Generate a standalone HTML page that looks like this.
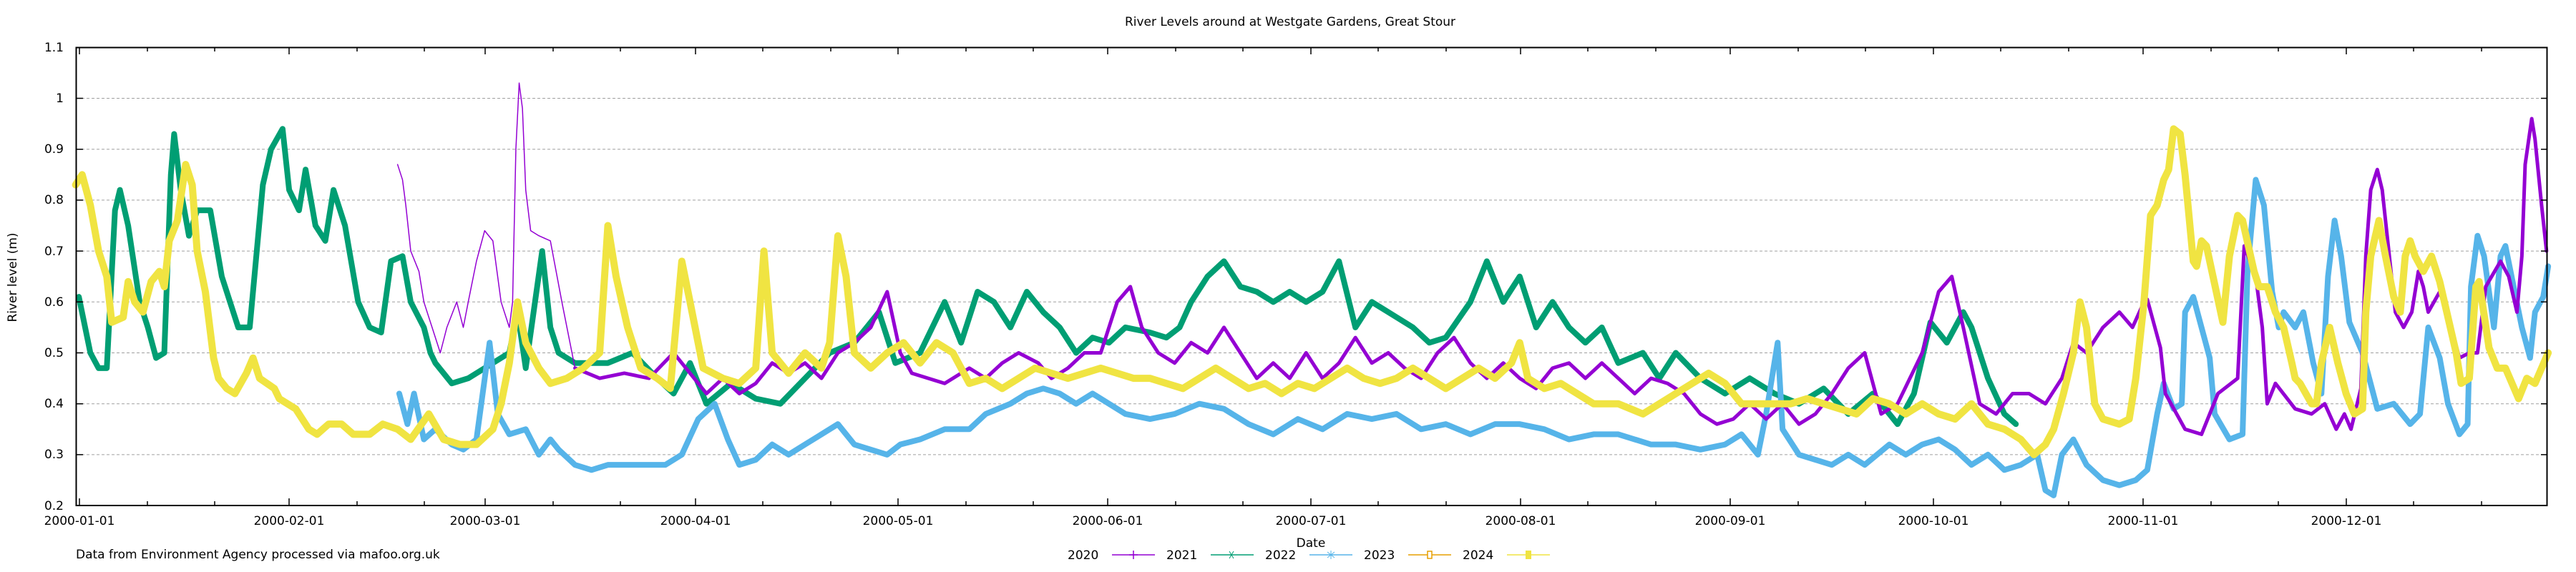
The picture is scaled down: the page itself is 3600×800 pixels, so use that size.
<!DOCTYPE html>
<html><head><meta charset="utf-8"><style>
html,body{margin:0;padding:0;background:#fff}
svg{display:block}
text{font-family:"DejaVu Sans","Liberation Sans",sans-serif;font-size:17px;fill:#000}
</style></head><body>
<svg width="3600" height="800" viewBox="0 0 3600 800" xmlns="http://www.w3.org/2000/svg">
<rect width="3600" height="800" fill="#fff"/>
<g stroke="#a0a0a0" stroke-width="1" stroke-dasharray="4,3">
<line x1="107" x2="3560" y1="137.5" y2="137.5"/><line x1="107" x2="3560" y1="208.7" y2="208.7"/>
<line x1="107" x2="3560" y1="279.9" y2="279.9"/><line x1="107" x2="3560" y1="351.1" y2="351.1"/>
<line x1="107" x2="3560" y1="422.3" y2="422.3"/><line x1="107" x2="3560" y1="493.5" y2="493.5"/>
<line x1="107" x2="3560" y1="564.7" y2="564.7"/><line x1="107" x2="3560" y1="635.9" y2="635.9"/>
</g>
<g fill="none" stroke-linejoin="round" stroke-linecap="round" transform="matrix(2.296 0 0 -712 0 849.5)">
<polyline vector-effect="non-scaling-stroke" stroke="#009e73" stroke-width="8" points="48,0.61 55,0.5 60,0.47 65,0.47 70,0.78 73,0.82 78,0.75 85,0.6 90,0.55 95,0.49 100,0.5 104,0.85 106,0.93 110,0.82 115,0.73 120,0.78 128,0.78 135,0.65 145,0.55 152,0.55 160,0.83 165,0.9 172,0.94 176,0.82 182,0.78 186,0.86 192,0.75 198,0.72 203,0.82 210,0.75 218,0.6 225,0.55 232,0.54 238,0.68 245,0.69 250,0.6 258,0.55 262,0.5 265,0.48 275,0.44 285,0.45 300,0.48 310,0.5 315,0.58 320,0.47 330,0.7 335,0.55 340,0.5 350,0.48 370,0.48 385,0.5 400,0.45 410,0.42 420,0.48 430,0.4 445,0.44 460,0.41 475,0.4 490,0.45 505,0.5 520,0.52 535,0.58 545,0.48 560,0.5 575,0.6 585,0.52 595,0.62 605,0.6 615,0.55 625,0.62 635,0.58 645,0.55 655,0.5 665,0.53 675,0.52 685,0.55 700,0.54 710,0.53 718,0.55 725,0.6 735,0.65 745,0.68 755,0.63 765,0.62 775,0.6 785,0.62 795,0.6 805,0.62 815,0.68 825,0.55 835,0.6 850,0.57 860,0.55 870,0.52 880,0.53 895,0.6 905,0.68 915,0.6 925,0.65 935,0.55 945,0.6 955,0.55 965,0.52 975,0.55 985,0.48 1000,0.5 1010,0.45 1020,0.5 1035,0.45 1050,0.42 1065,0.45 1080,0.42 1095,0.4 1110,0.43 1125,0.38 1140,0.42 1155,0.36 1165,0.42 1175,0.56 1185,0.52 1195,0.58 1200,0.55 1210,0.45 1220,0.38 1227,0.36"/>
<polyline vector-effect="non-scaling-stroke" stroke="#56b4e9" stroke-width="8" points="243,0.42 248,0.36 252,0.42 258,0.33 265,0.35 275,0.32 282,0.31 290,0.33 298,0.52 303,0.38 310,0.34 320,0.35 328,0.3 335,0.33 340,0.31 350,0.28 360,0.27 370,0.28 385,0.28 395,0.28 405,0.28 415,0.3 425,0.37 435,0.4 443,0.33 450,0.28 460,0.29 470,0.32 480,0.3 490,0.32 500,0.34 510,0.36 520,0.32 530,0.31 540,0.3 548,0.32 560,0.33 575,0.35 590,0.35 600,0.38 615,0.4 625,0.42 635,0.43 645,0.42 655,0.4 665,0.42 675,0.4 685,0.38 700,0.37 715,0.38 730,0.4 745,0.39 760,0.36 775,0.34 790,0.37 805,0.35 820,0.38 835,0.37 850,0.38 865,0.35 880,0.36 895,0.34 910,0.36 925,0.36 940,0.35 955,0.33 970,0.34 985,0.34 995,0.33 1005,0.32 1020,0.32 1035,0.31 1050,0.32 1060,0.34 1070,0.3 1075,0.38 1082,0.52 1085,0.35 1095,0.3 1105,0.29 1115,0.28 1125,0.3 1135,0.28 1150,0.32 1160,0.3 1170,0.32 1180,0.33 1190,0.31 1200,0.28 1210,0.3 1220,0.27 1230,0.28 1240,0.3 1245,0.23 1250,0.22 1255,0.3 1262,0.33 1270,0.28 1280,0.25 1290,0.24 1300,0.25 1307,0.27 1313,0.38 1317,0.44 1323,0.39 1328,0.40 1330,0.58 1335,0.61 1340,0.55 1345,0.49 1348,0.38 1357,0.33 1365,0.34 1368,0.66 1373,0.84 1378,0.79 1383,0.62 1387,0.55 1390,0.58 1397,0.55 1402,0.58 1408,0.48 1413,0.42 1417,0.65 1421,0.76 1425,0.69 1430,0.56 1438,0.50 1447,0.39 1457,0.40 1467,0.36 1473,0.38 1478,0.55 1485,0.49 1490,0.40 1497,0.34 1502,0.36 1504,0.63 1508,0.73 1512,0.69 1515,0.62 1518,0.55 1522,0.69 1525,0.71 1530,0.63 1535,0.55 1540,0.49 1543,0.58 1548,0.61 1551,0.67"/>
<polyline vector-effect="non-scaling-stroke" stroke="#9400d3" stroke-width="1.5" points="242,0.87 245,0.84 247,0.79 250,0.7 255,0.66 258,0.6 263,0.55 268,0.5 272,0.55 278,0.6 282,0.55 285,0.6 290,0.68 295,0.74 300,0.72 305,0.6 310,0.55 312,0.6 314,0.9 316,1.03 318,0.98 320,0.82 323,0.74 328,0.73 335,0.72 342,0.6 350,0.47"/>
<polyline vector-effect="non-scaling-stroke" stroke="#9400d3" stroke-width="5" points="350,0.47 365,0.45 380,0.46 395,0.45 410,0.5 420,0.46 430,0.42 440,0.45 450,0.42 460,0.44 470,0.48 480,0.46 490,0.48 500,0.45 510,0.5 520,0.52 530,0.55 540,0.62 548,0.5 555,0.46 565,0.45 575,0.44 590,0.47 600,0.45 610,0.48 620,0.5 632,0.48 640,0.45 650,0.47 660,0.5 670,0.5 680,0.6 688,0.63 695,0.55 705,0.5 715,0.48 725,0.52 735,0.5 745,0.55 755,0.5 765,0.45 775,0.48 785,0.45 795,0.5 805,0.45 815,0.48 825,0.53 835,0.48 845,0.5 855,0.47 865,0.45 875,0.5 885,0.53 895,0.48 905,0.45 915,0.48 925,0.45 935,0.43 945,0.47 955,0.48 965,0.45 975,0.48 985,0.45 995,0.42 1005,0.45 1015,0.44 1025,0.42 1035,0.38 1045,0.36 1055,0.37 1065,0.4 1075,0.37 1085,0.4 1095,0.36 1105,0.38 1115,0.42 1125,0.47 1135,0.5 1145,0.38 1155,0.4 1170,0.5 1180,0.62 1188,0.65 1195,0.55 1205,0.4 1215,0.38 1225,0.42 1235,0.42 1245,0.4 1255,0.45 1262,0.52 1270,0.5 1280,0.55 1290,0.58 1298,0.55 1305,0.6 1307,0.605 1315,0.51 1318,0.42 1330,0.35 1340,0.34 1350,0.42 1362,0.45 1366,0.71 1373,0.65 1377,0.55 1380,0.40 1385,0.44 1397,0.39 1407,0.38 1415,0.40 1422,0.35 1427,0.38 1431,0.35 1437,0.43 1440,0.69 1443,0.82 1447,0.86 1450,0.82 1453,0.73 1458,0.58 1463,0.55 1468,0.58 1472,0.66 1475,0.63 1478,0.58 1485,0.62 1492,0.55 1497,0.49 1503,0.50 1508,0.50 1513,0.63 1522,0.68 1527,0.65 1532,0.58 1535,0.69 1537,0.87 1541,0.96 1543,0.92 1547,0.79 1550,0.70"/>
<polyline vector-effect="non-scaling-stroke" stroke="#f0e442" stroke-width="10" points="46,0.83 50,0.85 55,0.79 60,0.70 65,0.65 68,0.56 75,0.57 78,0.64 82,0.60 87,0.58 92,0.64 97,0.66 100,0.63 103,0.72 108,0.76 113,0.87 117,0.83 120,0.70 125,0.62 130,0.49 133,0.45 138,0.43 143,0.42 150,0.46 154,0.49 158,0.45 167,0.43 170,0.41 180,0.39 188,0.35 193,0.34 200,0.36 208,0.36 215,0.34 225,0.34 233,0.36 242,0.35 250,0.33 261,0.38 270,0.33 280,0.32 290,0.32 300,0.35 305,0.4 310,0.48 315,0.6 320,0.52 328,0.47 335,0.44 345,0.45 355,0.47 365,0.5 370,0.75 375,0.65 382,0.55 390,0.47 400,0.45 408,0.43 415,0.68 420,0.6 428,0.47 440,0.45 450,0.44 460,0.47 465,0.7 470,0.5 480,0.46 490,0.5 500,0.47 505,0.52 510,0.73 515,0.65 520,0.5 530,0.47 540,0.5 550,0.52 560,0.48 570,0.52 580,0.5 590,0.44 600,0.45 610,0.43 620,0.45 630,0.47 640,0.46 650,0.45 660,0.46 670,0.47 680,0.46 690,0.45 700,0.45 710,0.44 720,0.43 730,0.45 740,0.47 750,0.45 760,0.43 770,0.44 780,0.42 790,0.44 800,0.43 810,0.45 820,0.47 830,0.45 840,0.44 850,0.45 860,0.47 870,0.45 880,0.43 890,0.45 900,0.47 910,0.45 920,0.48 925,0.52 930,0.45 940,0.43 950,0.44 960,0.42 970,0.4 985,0.4 1000,0.38 1010,0.4 1020,0.42 1030,0.44 1040,0.46 1050,0.44 1060,0.4 1075,0.4 1090,0.4 1100,0.41 1110,0.4 1120,0.39 1130,0.38 1140,0.41 1150,0.4 1160,0.38 1170,0.4 1180,0.38 1190,0.37 1200,0.4 1210,0.36 1220,0.35 1230,0.33 1238,0.3 1245,0.32 1250,0.35 1256,0.42 1262,0.5 1266,0.6 1270,0.55 1275,0.4 1280,0.37 1290,0.36 1296,0.37 1300,0.45 1305,0.6 1309,0.77 1313,0.79 1317,0.84 1320,0.86 1323,0.94 1327,0.93 1330,0.85 1335,0.68 1337,0.67 1340,0.72 1343,0.71 1347,0.65 1353,0.56 1357,0.69 1362,0.77 1365,0.76 1372,0.66 1375,0.63 1380,0.63 1385,0.58 1390,0.55 1395,0.48 1397,0.45 1400,0.44 1407,0.40 1410,0.40 1413,0.48 1418,0.55 1423,0.48 1428,0.42 1433,0.38 1438,0.39 1440,0.58 1443,0.69 1448,0.76 1452,0.69 1457,0.61 1461,0.58 1464,0.69 1467,0.72 1470,0.69 1475,0.66 1480,0.69 1485,0.64 1490,0.57 1495,0.50 1498,0.44 1503,0.45 1507,0.63 1509,0.64 1515,0.51 1520,0.47 1525,0.47 1533,0.41 1538,0.45 1543,0.44 1547,0.47 1551,0.50"/>
</g>
<rect x="106.5" y="66.5" width="3453" height="640.5" fill="none" stroke="#000" stroke-width="2"/>
<g stroke="#000" stroke-width="1.5">
<!-- y ticks -->
<path d="M107 137.5h9M107 208.7h9M107 279.9h9M107 351.1h9M107 422.3h9M107 493.5h9M107 564.7h9M107 635.9h9M3560 137.5h-9M3560 208.7h-9M3560 279.9h-9M3560 351.1h-9M3560 422.3h-9M3560 493.5h-9M3560 564.7h-9M3560 635.9h-9"/>
<!-- major x ticks -->
<path d="M111 707v-10M404 707v-10M678 707v-10M972 707v-10M1255 707v-10M1548 707v-10M1832 707v-10M2125 707v-10M2418 707v-10M2702 707v-10M2995 707v-10M3279 707v-10M111 66v10M404 66v10M678 66v10M972 66v10M1255 66v10M1548 66v10M1832 66v10M2125 66v10M2418 66v10M2702 66v10M2995 66v10M3279 66v10"/>
<!-- minor x ticks -->
<path d="M206 707v-6M300 707v-6M499 707v-6M593 707v-6M773 707v-6M867 707v-6M1066 707v-6M1161 707v-6M1350 707v-6M1444 707v-6M1643 707v-6M1737 707v-6M1926 707v-6M2021 707v-6M2219 707v-6M2314 707v-6M2513 707v-6M2607 707v-6M2796 707v-6M2891 707v-6M3090 707v-6M3184 707v-6M3373 707v-6M3468 707v-6M206 66v6M300 66v6M499 66v6M593 66v6M773 66v6M867 66v6M1066 66v6M1161 66v6M1350 66v6M1444 66v6M1643 66v6M1737 66v6M1926 66v6M2021 66v6M2219 66v6M2314 66v6M2513 66v6M2607 66v6M2796 66v6M2891 66v6M3090 66v6M3184 66v6M3373 66v6M3468 66v6"/>
</g>
<g text-anchor="end">
<text x="89" y="72">1.1</text><text x="89" y="143">1</text><text x="89" y="214">0.9</text><text x="89" y="285">0.8</text><text x="89" y="357">0.7</text><text x="89" y="428">0.6</text><text x="89" y="499">0.5</text><text x="89" y="570">0.4</text><text x="89" y="641">0.3</text><text x="89" y="713">0.2</text>
</g>
<g text-anchor="middle">
<text x="111" y="734">2000-01-01</text><text x="404" y="734">2000-02-01</text><text x="678" y="734">2000-03-01</text><text x="972" y="734">2000-04-01</text><text x="1255" y="734">2000-05-01</text><text x="1548" y="734">2000-06-01</text><text x="1832" y="734">2000-07-01</text><text x="2125" y="734">2000-08-01</text><text x="2418" y="734">2000-09-01</text><text x="2702" y="734">2000-10-01</text><text x="2995" y="734">2000-11-01</text><text x="3279" y="734">2000-12-01</text>
<text x="1832" y="765">Date</text>
<text x="1803" y="36">River Levels around at Westgate Gardens, Great Stour</text>
<text transform="translate(23,388) rotate(-90)">River level (m)</text>
</g>
<text x="106" y="781">Data from Environment Agency processed via mafoo.org.uk</text>
<g>
<text x="1492" y="782">2020</text><line x1="1554" x2="1614" y1="776" y2="776" stroke="#9400d3" stroke-width="1.5"/><path d="M1584 770v12M1578 776h12" stroke="#9400d3" stroke-width="1.5"/>
<text x="1630" y="782">2021</text><line x1="1692" x2="1752" y1="776" y2="776" stroke="#009e73" stroke-width="1.5"/><path d="M1718 771l6 10M1724 771l-6 10" stroke="#009e73" stroke-width="1"/>
<text x="1768" y="782">2022</text><line x1="1830" x2="1890" y1="776" y2="776" stroke="#56b4e9" stroke-width="1.5"/><path d="M1860 770v12M1855 772l10 8M1865 772l-10 8" stroke="#56b4e9" stroke-width="1"/>
<text x="1906" y="782">2023</text><line x1="1968" x2="2028" y1="776" y2="776" stroke="#e69f00" stroke-width="1.5"/><rect x="1995" y="771" width="6" height="10" fill="#fff" stroke="#e69f00" stroke-width="1.5"/>
<text x="2044" y="782">2024</text><line x1="2106" x2="2166" y1="776" y2="776" stroke="#f0e442" stroke-width="1.5"/><rect x="2132" y="770" width="8" height="12" fill="#f0e442"/>
</g>
</svg>
</body></html>
